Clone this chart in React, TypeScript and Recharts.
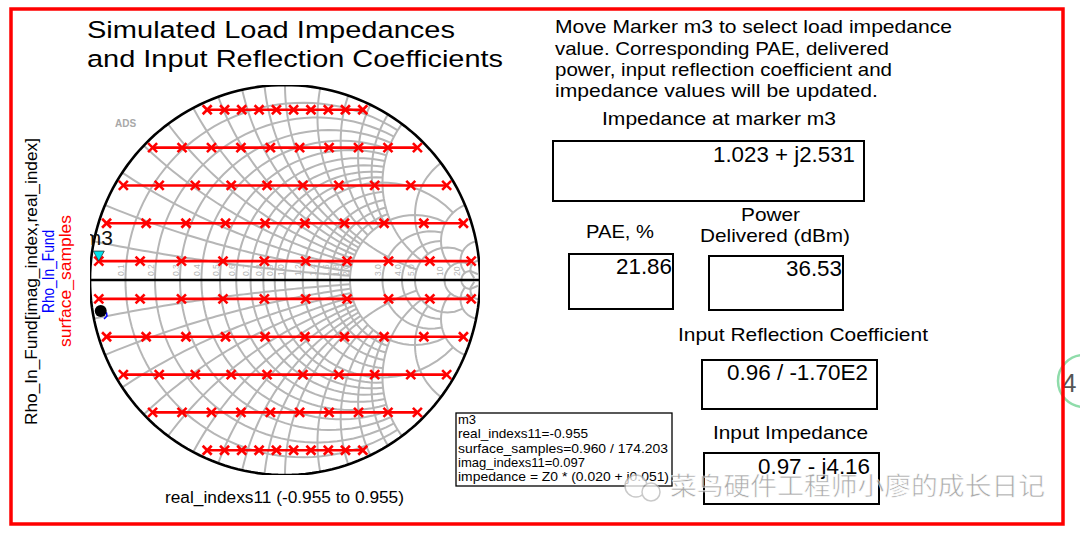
import React from 'react';
import { ScatterChart, Scatter, XAxis, YAxis } from 'recharts';

// ---- data (reflection coefficient plane, normalized) ----
const rowImagValues = [0.873, 0.679, 0.485, 0.291, 0.097, -0.097, -0.291, -0.485, -0.679, -0.873];
const realRow873 = [-0.399, -0.31, -0.222, -0.133, -0.044, 0.044, 0.133, 0.222, 0.31, 0.399];
const realRow679 = [-0.679, -0.528, -0.377, -0.226, -0.075, 0.075, 0.226, 0.377, 0.528, 0.679];
const realRow485 = [-0.829, -0.645, -0.46, -0.276, -0.092, 0.092, 0.276, 0.46, 0.645, 0.829];
const realRow291 = [-0.915, -0.712, -0.508, -0.305, -0.102, 0.102, 0.305, 0.508, 0.712, 0.915];
const realRow097 = [-0.955, -0.743, -0.531, -0.318, -0.106, 0.106, 0.318, 0.531, 0.743, 0.955];
const rowReals = [realRow873, realRow679, realRow485, realRow291, realRow097, realRow097, realRow291, realRow485, realRow679, realRow873];

const markerM3 = [{ x: -0.955, y: 0.097 }];
const rhoInFundMarker = [{ x: -0.945, y: -0.159 }];
const rhoInFundTrace = [
  { x: -0.945, y: -0.159 },
  { x: -0.915, y: -0.169 },
  { x: -0.913, y: -0.185 },
  { x: -0.928, y: -0.2 },
];

// ---- Smith chart grid definition: [value, limit of the other coordinate] ----
const rCircles: [number, number][] = [
  [0.1, 2], [0.2, 2], [0.3, 2], [0.4, 2], [0.5, 2], [0.6, 2], [0.7, 2], [0.8, 2], [0.9, 2],
  [1.0, 5], [1.2, 2], [1.4, 2], [1.6, 2], [1.8, 2], [2.0, 5],
  [3, 5], [4, 5], [5, 10], [10, 20], [20, 60],
];
const xArcs: [number, number][] = [
  [0.1, 2], [0.2, 2], [0.3, 2], [0.4, 2], [0.5, 2], [0.6, 2], [0.7, 2], [0.8, 2], [0.9, 2],
  [1.0, 5], [1.2, 2], [1.4, 2], [1.6, 2], [1.8, 2], [2.0, 5],
  [3, 5], [5, 10], [10, 20], [20, 60],
];
const realAxisLabels = ['0.1', '0.2', '0.3', '0.4', '0.5', '0.6', '0.7', '0.8', '0.9', '1.0', '1.2', '1.4', '1.6', '1.8', '2.0', '3.0', '4.0', '5.0', '10', '20'];

const titleLines = ['Simulated Load Impedances', 'and Input Reflection Coefficients'];
const noteLines = [
  'Move Marker m3 to select load impedance',
  'value.  Corresponding PAE, delivered',
  'power, input reflection coefficient and',
  'impedance values will be updated.',
];
const markerInfoLines = [
  'm3',
  'real_indexs11=-0.955',
  'surface_samples=0.960 / 174.203',
  'imag_indexs11=0.097',
  'impedance = Z0 * (0.020 + j0.051)',
];
const impedanceAtMarker = '1.023 + j2.531';
const paeValue = '21.86';
const powerValue = '36.53';
const inputReflection = '0.96 / -1.70E2';
const inputImpedance = '0.97 - j4.16';
const watermark = '菜鸟硬件工程师小廖的成长日记';

// ---- helpers (map impedance grid to the reflection plane) ----
function gamma(r: number, x: number) {
  const den = (r + 1) * (r + 1) + x * x;
  return { x: (r * r + x * x - 1) / den, y: (2 * x) / den };
}
function rCircle(r: number, xLim: number) {
  const a = Math.atan(xLim);
  const pts = [];
  const n = 90;
  for (let i = 0; i <= n; i++) {
    const phi = -a + (2 * a * i) / n;
    pts.push(gamma(r, Math.tan(phi)));
  }
  return pts;
}
function xArc(xv: number, rLim: number) {
  const a = Math.atan(rLim);
  const pts = [];
  const n = 60;
  for (let i = 0; i <= n; i++) {
    const phi = (a * i) / n;
    pts.push(gamma(Math.tan(phi), xv));
  }
  return pts;
}
const gridArcs: { x: number; y: number }[][] = [];
rCircles.forEach(([r, lim]) => gridArcs.push(rCircle(r, lim)));
xArcs.forEach(([xv, lim]) => {
  gridArcs.push(xArc(xv, lim));
  gridArcs.push(xArc(-xv, lim));
});
const unitCircle = Array.from({ length: 181 }, (_, i) => ({
  x: Math.cos((i * 2 * Math.PI) / 180),
  y: Math.sin((i * 2 * Math.PI) / 180),
}));
const realAxis = [{ x: -1, y: 0 }, { x: 1, y: 0 }];
const labelPoints = realAxisLabels.map((l) => {
  const v = parseFloat(l);
  return { x: (v - 1) / (v + 1), y: 0, label: l };
});

const NoShape = () => <g />;
const Cross = (p: any) => {
  const { cx, cy } = p;
  if (cx == null) return <g />;
  return (
    <g stroke="#ff0000" strokeWidth={2.6}>
      <line x1={cx - 4.5} y1={cy - 4.5} x2={cx + 4.5} y2={cy + 4.5} />
      <line x1={cx - 4.5} y1={cy + 4.5} x2={cx + 4.5} y2={cy - 4.5} />
    </g>
  );
};
const AxisLabel = (p: any) => {
  const { cx, cy, payload } = p;
  if (cx == null) return <g />;
  return (
    <text
      x={cx - 1.5}
      y={cy - 4}
      transform={`rotate(-90 ${cx - 1.5} ${cy - 4})`}
      fontSize={8.5}
      fill="#b4b4b4"
      fontFamily="Liberation Sans, Arial, sans-serif"
    >
      {payload?.label}
    </text>
  );
};
const M3Shape = (p: any) => {
  const { cx, cy } = p;
  if (cx == null) return <g />;
  return (
    <g>
      <polygon points={`${cx - 5.5},${cy - 10} ${cx + 5.5},${cy - 10} ${cx},${cy}`} fill="#00e4ec" stroke="#333" strokeWidth={0.8} />
      <text x={cx - 15} y={cy - 16} fontSize={21} fill="#111" fontFamily="Liberation Sans, Arial, sans-serif">m3</text>
    </g>
  );
};
const DotShape = (p: any) => {
  const { cx, cy } = p;
  if (cx == null) return <g />;
  return <circle cx={cx} cy={cy} r={6} fill="#000" />;
};

const FONT = 'Liberation Sans, Arial, sans-serif';

export default function App() {
  return (
    <div style={{ position: 'absolute', left: 0, top: 0, width: 1080, height: 533, background: '#fff', overflow: 'hidden' }}>
      <svg width={1080} height={533} style={{ position: 'absolute', left: 0, top: 0 }} fontFamily={FONT}>
        {/* floating widget at right edge */}
        <circle cx={1084} cy={381} r={26} fill="#fff" stroke="#8fdcaa" strokeWidth={2.5} />
        <text x={1062} y={392} fontSize={26} fill="#555">4</text>
        {/* red frame */}
        <rect x={11} y={9} width={1052} height={515} fill="none" stroke="#ff0000" strokeWidth={3.5} />

        {/* titles */}
        <text x={87} y={37.5} fontSize={24.5} fill="#000" textLength={368} lengthAdjust="spacingAndGlyphs">{titleLines[0]}</text>
        <text x={87} y={66.5} fontSize={24.5} fill="#000" textLength={416} lengthAdjust="spacingAndGlyphs">{titleLines[1]}</text>
        <text x={555} y={33} fontSize={18.5} fill="#000" textLength={397} lengthAdjust="spacingAndGlyphs">{noteLines[0]}</text>
        <text x={555} y={54.5} fontSize={18.5} fill="#000" textLength={334} lengthAdjust="spacingAndGlyphs">{noteLines[1]}</text>
        <text x={555} y={75.5} fontSize={18.5} fill="#000" textLength={337} lengthAdjust="spacingAndGlyphs">{noteLines[2]}</text>
        <text x={555} y={96.5} fontSize={18.5} fill="#000" textLength={323} lengthAdjust="spacingAndGlyphs">{noteLines[3]}</text>

        {/* left axis labels */}
        <text x={37} y={281.5} fontSize={16} fill="#000" textAnchor="middle" textLength={287} lengthAdjust="spacingAndGlyphs" transform="rotate(-90 37 281.5)">Rho_In_Fund[imag_index,real_index]</text>
        <text x={54} y={271.5} fontSize={16} fill="#0000ff" textAnchor="middle" textLength={83} lengthAdjust="spacingAndGlyphs" transform="rotate(-90 54 271.5)">Rho_In_Fund</text>
        <text x={71} y={281} fontSize={16} fill="#ff0000" textAnchor="middle" textLength={132} lengthAdjust="spacingAndGlyphs" transform="rotate(-90 71 281)">surface_samples</text>
        {/* bottom label */}
        <text x={165} y={503} fontSize={16} fill="#000" textLength={239} lengthAdjust="spacingAndGlyphs">real_indexs11 (-0.955 to 0.955)</text>
        <text x={115} y={127} fontSize={10} fontWeight="bold" fill="#a8a8a8">ADS</text>

        {/* readout panels */}
        <text x={602} y={125} fontSize={19} fill="#000" textLength={234} lengthAdjust="spacingAndGlyphs">Impedance at marker m3</text>
        <rect x={553} y={141} width={311} height={60} fill="#fff" stroke="#000" strokeWidth={2} />
        <text x={713} y={162} fontSize={22} fill="#000" textLength={142} lengthAdjust="spacingAndGlyphs">{impedanceAtMarker}</text>

        <text x={586} y={238} fontSize={19} fill="#000" textLength={68} lengthAdjust="spacingAndGlyphs">PAE, %</text>
        <rect x={569} y={254} width={104} height={55} fill="#fff" stroke="#000" strokeWidth={2} />
        <text x={616} y={274} fontSize={22} fill="#000" textLength={56} lengthAdjust="spacingAndGlyphs">{paeValue}</text>

        <text x={741} y={221} fontSize={19} fill="#000" textLength={59} lengthAdjust="spacingAndGlyphs">Power</text>
        <text x={700} y={242} fontSize={19} fill="#000" textLength={150} lengthAdjust="spacingAndGlyphs">Delivered (dBm)</text>
        <rect x={709} y={256} width={134} height={54} fill="#fff" stroke="#000" strokeWidth={2} />
        <text x={786} y={276} fontSize={22} fill="#000" textLength={56} lengthAdjust="spacingAndGlyphs">{powerValue}</text>

        <text x={678} y={341} fontSize={19} fill="#000" textLength={250} lengthAdjust="spacingAndGlyphs">Input Reflection Coefficient</text>
        <rect x={702} y={360} width={175} height={49} fill="#fff" stroke="#000" strokeWidth={2} />
        <text x={727} y={380} fontSize={22} fill="#000" textLength={141} lengthAdjust="spacingAndGlyphs">{inputReflection}</text>

        <text x={713} y={439} fontSize={19} fill="#000" textLength={155} lengthAdjust="spacingAndGlyphs">Input Impedance</text>
        <rect x={704} y={453} width={175} height={51} fill="#fff" stroke="#000" strokeWidth={2} />
        <text x={758} y={474} fontSize={22} fill="#000" textLength={112} lengthAdjust="spacingAndGlyphs">{inputImpedance}</text>

        {/* marker readout */}
        <rect x={456} y={413} width={216} height={73} fill="#fff" stroke="#000" strokeWidth={1.3} />
        <text x={458} y={424} fontSize={13} fill="#000">{markerInfoLines[0]}</text>
        <text x={458} y={438} fontSize={13} fill="#000" textLength={130} lengthAdjust="spacingAndGlyphs">{markerInfoLines[1]}</text>
        <text x={458} y={452.5} fontSize={13} fill="#000" textLength={210} lengthAdjust="spacingAndGlyphs">{markerInfoLines[2]}</text>
        <text x={458} y={466.5} fontSize={13} fill="#000" textLength={127} lengthAdjust="spacingAndGlyphs">{markerInfoLines[3]}</text>
        <text x={458} y={481} fontSize={13} fill="#000" textLength={211} lengthAdjust="spacingAndGlyphs">{markerInfoLines[4]}</text>

        {/* watermark */}
        <g opacity={0.75}>
          <circle cx={636} cy={486} r={11} fill="#fff" stroke="#b8b8b8" strokeWidth={1.5} />
          <circle cx={651} cy={492} r={9} fill="#fff" stroke="#b8b8b8" strokeWidth={1.5} />
          <text x={670} y={495} fontSize={25} fill="#8c8c8c" stroke="#fff" strokeWidth={0.6} textLength={375} lengthAdjust="spacingAndGlyphs" fontFamily="Noto Sans CJK SC, sans-serif">{watermark}</text>
        </g>
      </svg>

      <div style={{ position: 'absolute', left: 40, top: 35 }}>
        <ScatterChart width={490} height={490} margin={{ top: 50, right: 50, bottom: 50, left: 50 }} style={{ overflow: 'visible' }}>
          <XAxis type="number" dataKey="x" domain={[-1, 1]} hide allowDataOverflow />
          <YAxis type="number" dataKey="y" domain={[-1, 1]} hide allowDataOverflow />
          {gridArcs.map((arc, i) => (
            <Scatter key={`g${i}`} data={arc} line={{ stroke: '#b6b6b6', strokeWidth: 2 }} shape={NoShape} isAnimationActive={false} legendType="none" />
          ))}
          <Scatter data={labelPoints} shape={AxisLabel} isAnimationActive={false} legendType="none" />
          <Scatter data={unitCircle} line={{ stroke: '#000', strokeWidth: 2.6 }} shape={NoShape} isAnimationActive={false} legendType="none" />
          <Scatter data={realAxis} line={{ stroke: '#000', strokeWidth: 2.6 }} shape={NoShape} isAnimationActive={false} legendType="none" />
          {rowImagValues.map((im, i) => (
            <Scatter
              key={`row${i}`}
              data={rowReals[i].map((re) => ({ x: re, y: im }))}
              line={{ stroke: '#ff0000', strokeWidth: 2.6 }}
              shape={Cross}
              isAnimationActive={false}
              legendType="none"
            />
          ))}
          <Scatter data={rhoInFundTrace} line={{ stroke: '#0000ff', strokeWidth: 1.5 }} shape={NoShape} isAnimationActive={false} legendType="none" />
          <Scatter data={rhoInFundMarker} shape={DotShape} isAnimationActive={false} legendType="none" />
          <Scatter data={markerM3} shape={M3Shape} isAnimationActive={false} legendType="none" />
        </ScatterChart>
      </div>
    </div>
  );
}
